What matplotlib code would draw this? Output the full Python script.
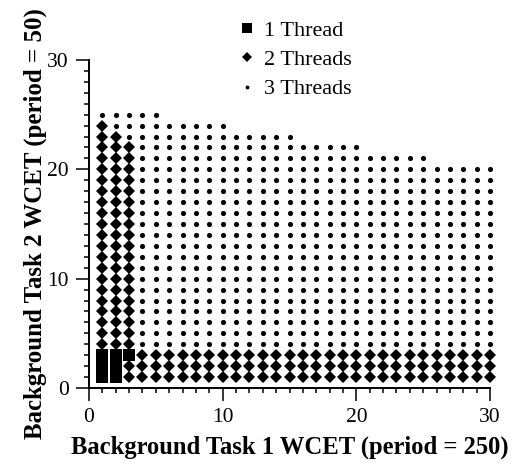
import matplotlib
matplotlib.use("Agg")
import matplotlib.pyplot as plt
from matplotlib.lines import Line2D
from matplotlib.ticker import MultipleLocator

plt.rcParams['font.family'] = ['Liberation Serif', 'DejaVu Serif']

# Data
columns = list(range(1, 31))                      # Background Task 1 WCET
top_wcet2 = [25, 25, 25, 25, 25, 24, 24, 24, 24, 24,
             23, 23, 23, 23, 23, 22, 22, 22, 22, 22,
             21, 21, 21, 21, 21, 20, 20, 20, 20, 20]  # highest feasible Task 2 WCET
one_thread_x = [1, 1, 1, 2, 2, 2, 3]
one_thread_y = [1, 2, 3, 1, 2, 3, 3]
# ranges (inclusive) of Task 2 WCET that need 2 threads, per column
two_thread_ranges = {1: [(4, 24)], 2: [(4, 23)], 3: [(1, 2), (4, 22)]}
default_two_range = [(1, 3)]

labels = ["1 Thread", "2 Threads", "3 Threads"]
x_label = "Background Task 1 WCET (period = 250)"
y_label = "Background Task 2 WCET (period = 50)"
ticks = [0, 10, 20, 30]

one_set = set(zip(one_thread_x, one_thread_y))
two_x, two_y, three_x, three_y = [], [], [], []
for c, top in zip(columns, top_wcet2):
    rngs = two_thread_ranges.get(c, default_two_range)
    for y in range(1, top + 1):
        if (c, y) in one_set:
            continue
        if any(lo <= y <= hi for lo, hi in rngs):
            two_x.append(c); two_y.append(y)
        else:
            three_x.append(c); three_y.append(y)

fig = plt.figure(figsize=(5.18, 4.63), dpi=100)
ax = fig.add_axes([89/518, 1 - 388/463, (490-89)/518, (388-60)/463])

ax.plot(three_x, three_y, 'o', color='black', ms=3.7, mew=0, clip_on=False)
ax.plot(two_x, two_y, 'D', color='black', ms=6.5, mew=0, clip_on=False)
ax.plot(one_thread_x, one_thread_y, 's', color='black', ms=8.3, mew=0, clip_on=False)

ax.set_xlim(0, 30)
ax.set_ylim(0, 30)
ax.set_xticks(ticks)
ax.set_yticks(ticks)
ax.xaxis.set_minor_locator(MultipleLocator(1))
ax.yaxis.set_minor_locator(MultipleLocator(1))
for s in ['top', 'right']:
    ax.spines[s].set_visible(False)
for s in ['left', 'bottom']:
    ax.spines[s].set_linewidth(1.4)
ax.tick_params(which='major', direction='out', length=9.4, width=1.1, labelsize=15.5, pad=5)
ax.tick_params(which='minor', direction='out', length=3.6, width=1.1)

ax.set_xlabel(x_label, fontsize=17.7, fontweight='bold', labelpad=6)
ax.set_ylabel(y_label, fontsize=17.9, fontweight='bold', labelpad=0)

handles = [
    Line2D([], [], ls='none', marker='s', color='black', ms=6.5, mew=0),
    Line2D([], [], ls='none', marker='D', color='black', ms=5, mew=0),
    Line2D([], [], ls='none', marker='o', color='black', ms=2.8, mew=0),
]
fig.legend(handles, labels, loc='upper left', bbox_to_anchor=(238/518, 1 - 20/463),
           frameon=False, fontsize=16, handlelength=0.8, handletextpad=0.35,
           labelspacing=0.4, borderaxespad=0, borderpad=0)

fig.savefig("out.png", dpi=100)
